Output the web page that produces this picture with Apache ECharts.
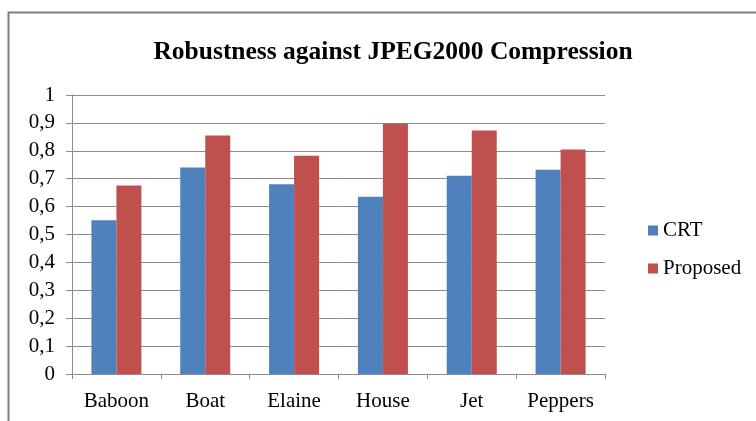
<!DOCTYPE html>
<html>
<head>
<meta charset="utf-8">
<script src="https://cdn.jsdelivr.net/npm/echarts@6/dist/echarts.min.js"></script>
<style>
  html, body { margin: 0; padding: 0; background: #fff; }
  #main { width: 756px; height: 421px; }
</style>
</head>
<body>
<div id="main"></div>
<script>
// chart data
var categories = ['Baboon', 'Boat', 'Elaine', 'House', 'Jet', 'Peppers'];
var crtValues = [0.551, 0.740, 0.680, 0.635, 0.711, 0.732];
var proposedValues = [0.676, 0.855, 0.782, 0.898, 0.873, 0.805];
var seriesNames = ['CRT', 'Proposed'];

var serif = '"Liberation Serif", "DejaVu Serif", serif';

var myChart = echarts.init(document.getElementById('main'), null, { renderer: 'canvas' });

myChart.setOption({
  animation: false,
  backgroundColor: '#fff',
  title: {
    text: 'Robustness against JPEG2000 Compression',
    left: 388,
    top: 34,
    textAlign: 'center',
    textStyle: { fontFamily: serif, fontSize: 25.5, fontWeight: 'bold', color: '#000' }
  },
  legend: {
    orient: 'vertical',
    left: 643,
    top: 215,
    itemWidth: 10,
    itemHeight: 10,
    itemGap: 17,
    icon: 'rect',
    textStyle: { fontFamily: serif, fontSize: 21, color: '#000' },
    data: seriesNames
  },
  grid: { left: 72, top: 95, width: 533, height: 279 },
  xAxis: {
    type: 'category',
    data: categories,
    axisLine: { lineStyle: { color: '#8c8c8c', width: 1 } },
    axisTick: { show: true, length: 5, lineStyle: { color: '#8c8c8c' } },
    axisLabel: { fontFamily: serif, fontSize: 21, color: '#000', margin: 17 }
  },
  yAxis: {
    type: 'value',
    min: 0,
    max: 1,
    interval: 0.1,
    axisLine: { show: true, lineStyle: { color: '#8c8c8c', width: 1 } },
    axisTick: { show: true, length: 6, lineStyle: { color: '#8c8c8c' } },
    splitLine: { lineStyle: { color: '#8c8c8c', width: 1 } },
    axisLabel: {
      fontFamily: serif, fontSize: 21, color: '#000', margin: 17,
      formatter: function (v) {
        return String(Math.round(v * 10) / 10).replace('.', ',');
      }
    }
  },
  series: [
    {
      name: seriesNames[0],
      type: 'bar',
      data: crtValues,
      barWidth: 25,
      barGap: '0%',
      itemStyle: { color: '#4f81bd' }
    },
    {
      name: seriesNames[1],
      type: 'bar',
      data: proposedValues,
      barWidth: 25,
      itemStyle: { color: '#c0504d' }
    }
  ],
  graphic: [
    {
      type: 'rect',
      shape: { x: 8.5, y: 12.5, width: 760, height: 420 },
      style: { fill: 'none', stroke: '#7f7f7f', lineWidth: 2 },
      silent: true
    }
  ]
});
</script>
</body>
</html>
